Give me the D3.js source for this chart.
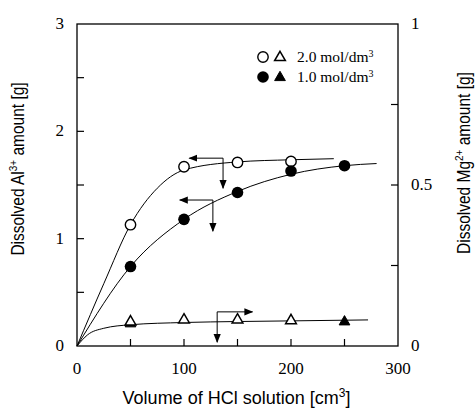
<!DOCTYPE html>
<html>
<head>
<meta charset="utf-8">
<script src="https://cdn.jsdelivr.net/npm/d3@7"></script>
<style>
  body { margin: 0; background: #fff; }
  svg { display: block; }
  .tick-label { font-family: "Liberation Serif", "Times New Roman", serif; font-size: 17px; }
  .axis-title { font-family: "Liberation Sans", Arial, sans-serif; font-size: 15.5px; }
  .legend-text { font-family: "Liberation Serif", "Times New Roman", serif; font-size: 15.5px; }
</style>
</head>
<body>
<div id="chart"></div>
<script>
'use strict';

// measured points (volume in cm3, dissolved amount in g)
var volumes = [50, 100, 150, 200, 250];
var al20 = [1.13, 1.67, 1.71, 1.72];          // open circles, left axis
var al10 = [0.74, 1.18, 1.43, 1.63, 1.68];    // filled circles, left axis
var mg20 = [0.072, 0.078, 0.078, 0.076];      // open triangles, right axis
var mg10 = [0.066, 0.072];                    // filled triangles, right axis
var mg10Vol = [50, 250];

// hand-drawn fit lines
var fitAl20 = [[0, 0], [25, 0.58], [50, 1.13], [75, 1.47], [100, 1.64], [150, 1.715], [200, 1.735], [240, 1.745]];
var fitAl10 = [[0, 0], [50, 0.74], [100, 1.18], [150, 1.44], [200, 1.60], [250, 1.68], [280, 1.70]];
var fitMg = [[0, 0], [10, 0.035], [25, 0.055], [50, 0.066], [100, 0.073], [150, 0.076], [200, 0.078], [272, 0.081]];

var xTicks = [0, 100, 200, 300];
var yLeftTicks = [0, 1, 2, 3];
var yRightTicks = [0, 0.5, 1];

var width = 476, height = 408;
var margin = { left: 77, right: 78, top: 24, bottom: 62 };
var plotW = width - margin.left - margin.right;
var plotH = height - margin.top - margin.bottom;

var svg = d3.select("#chart").append("svg")
    .attr("width", width)
    .attr("height", height);

var g = svg.append("g")
    .attr("transform", "translate(" + margin.left + "," + margin.top + ")");

var x = d3.scaleLinear().domain([0, 300]).range([0, plotW]);
var yL = d3.scaleLinear().domain([0, 3]).range([plotH, 0]);
var yR = d3.scaleLinear().domain([0, 1]).range([plotH, 0]);

// frame: left, bottom, right and top lines
g.append("rect")
    .attr("x", 0).attr("y", 0)
    .attr("width", plotW).attr("height", plotH)
    .attr("fill", "none")
    .attr("stroke", "#000")
    .attr("stroke-width", 1.3);

var tickLen = 7;

// bottom ticks, pointing up (every 50)
g.selectAll(".xtick").data(d3.range(50, 300, 50)).enter().append("line")
    .attr("x1", function (d) { return x(d); })
    .attr("x2", function (d) { return x(d); })
    .attr("y1", plotH).attr("y2", plotH - tickLen)
    .attr("stroke", "#000").attr("stroke-width", 1.2);

// left ticks, pointing right (every 0.5)
g.selectAll(".yltick").data(d3.range(0.5, 3, 0.5)).enter().append("line")
    .attr("x1", 0).attr("x2", tickLen)
    .attr("y1", function (d) { return yL(d); })
    .attr("y2", function (d) { return yL(d); })
    .attr("stroke", "#000").attr("stroke-width", 1.2);

// right ticks, pointing left (every 0.25)
g.selectAll(".yrtick").data([0.25, 0.5, 0.75]).enter().append("line")
    .attr("x1", plotW).attr("x2", plotW - tickLen)
    .attr("y1", function (d) { return yR(d); })
    .attr("y2", function (d) { return yR(d); })
    .attr("stroke", "#000").attr("stroke-width", 1.2);

// tick labels
g.selectAll(".xlab").data(xTicks).enter().append("text")
    .attr("class", "tick-label")
    .attr("x", function (d) { return x(d); })
    .attr("y", plotH + 28)
    .attr("text-anchor", "middle")
    .text(function (d) { return d; });

g.selectAll(".yllab").data(yLeftTicks).enter().append("text")
    .attr("class", "tick-label")
    .attr("x", -13)
    .attr("y", function (d) { return yL(d) + 5; })
    .attr("text-anchor", "end")
    .text(function (d) { return d; });

g.selectAll(".yrlab").data(yRightTicks).enter().append("text")
    .attr("class", "tick-label")
    .attr("x", plotW + 13)
    .attr("y", function (d) { return yR(d) + 5; })
    .attr("text-anchor", "start")
    .text(function (d) { return d; });

// axis titles
var xt = svg.append("text")
    .attr("class", "axis-title")
    .style("font-size", "18px")
    .attr("x", margin.left + plotW / 2 - 1)
    .attr("y", 404)
    .attr("text-anchor", "middle");
xt.append("tspan").text("Volume of HCl solution [cm");
xt.append("tspan").attr("dy", -7).style("font-size", "12px").text("3");
xt.append("tspan").attr("dy", 7).text("]");

var ylt = svg.append("text")
    .attr("class", "axis-title")
    .attr("transform", "translate(24," + (margin.top + plotH / 2 - 16) + ") scale(1.15,1) rotate(-90)")
    .attr("text-anchor", "middle");
ylt.append("tspan").text("Dissolved Al");
ylt.append("tspan").attr("dy", -6).style("font-size", "10px").text("3+");
ylt.append("tspan").attr("dy", 6).text(" amount [g]");

var yrt = svg.append("text")
    .attr("class", "axis-title")
    .attr("transform", "translate(470," + (margin.top + plotH / 2 - 22) + ") scale(1.15,1) rotate(-90)")
    .attr("text-anchor", "middle");
yrt.append("tspan").text("Dissolved Mg");
yrt.append("tspan").attr("dy", -6).style("font-size", "10px").text("2+");
yrt.append("tspan").attr("dy", 6).text(" amount [g]");

// fit lines
var lineL = d3.line()
    .x(function (d) { return x(d[0]); })
    .y(function (d) { return yL(d[1]); })
    .curve(d3.curveMonotoneX);
var lineR = d3.line()
    .x(function (d) { return x(d[0]); })
    .y(function (d) { return yR(d[1]); })
    .curve(d3.curveMonotoneX);

[fitAl20, fitAl10].forEach(function (f) {
    g.append("path").attr("d", lineL(f))
        .attr("fill", "none").attr("stroke", "#000").attr("stroke-width", 1);
});
g.append("path").attr("d", lineR(fitMg))
    .attr("fill", "none").attr("stroke", "#000").attr("stroke-width", 1);

// markers
var r = 5.2;
var tri = d3.symbol().type(d3.symbolTriangle).size(50);

g.selectAll(".mg10").data(mg10).enter().append("path")
    .attr("d", tri)
    .attr("transform", function (d, i) { return "translate(" + x(mg10Vol[i]) + "," + (yR(d) - 1) + ")"; })
    .attr("fill", "#000").attr("stroke", "#000").attr("stroke-width", 1);

g.selectAll(".mg20").data(mg20).enter().append("path")
    .attr("d", tri)
    .attr("transform", function (d, i) { return "translate(" + x(volumes[i]) + "," + (yR(d) - 1) + ")"; })
    .attr("fill", "#fff").attr("stroke", "#000").attr("stroke-width", 1.5);

g.selectAll(".al20").data(al20).enter().append("circle")
    .attr("cx", function (d, i) { return x(volumes[i]); })
    .attr("cy", function (d) { return yL(d); })
    .attr("r", r)
    .attr("fill", "#fff").attr("stroke", "#000").attr("stroke-width", 1.4);

g.selectAll(".al10").data(al10).enter().append("circle")
    .attr("cx", function (d, i) { return x(volumes[i]); })
    .attr("cy", function (d) { return yL(d); })
    .attr("r", r + 0.6)
    .attr("fill", "#000");

// arrows pointing to the axis each curve belongs to
var defs = svg.append("defs");
defs.append("marker")
    .attr("id", "head")
    .attr("viewBox", "0 0 10 10")
    .attr("refX", 9).attr("refY", 5)
    .attr("markerWidth", 9).attr("markerHeight", 9)
    .attr("markerUnits", "userSpaceOnUse")
    .attr("orient", "auto")
    .append("path")
    .attr("d", "M0,1 L10,5 L0,9 Z")
    .attr("fill", "#000");

function arrow(x1, y1, x2, y2) {
    g.append("line")
        .attr("x1", x1).attr("y1", y1).attr("x2", x2).attr("y2", y2)
        .attr("stroke", "#000").attr("stroke-width", 1)
        .attr("marker-end", "url(#head)");
}

// 2.0 mol curve -> left axis
arrow(x(136.5), yL(1.75), x(105), yL(1.75));
arrow(x(136.5), yL(1.75), x(136.5), yL(1.47));
// 1.0 mol curve -> left axis
arrow(x(127), yL(1.36), x(96), yL(1.36));
arrow(x(127), yL(1.36), x(127), yL(1.07));
// Mg curve -> right axis
arrow(x(131), yR(0.106), x(164), yR(0.106));
arrow(x(131), yR(0.106), x(131), yR(0.012));

// legend
var lg = svg.append("g");
var legendRows = [
    { label: "2.0 mol/dm", fill: "#fff", y: 57 },
    { label: "1.0 mol/dm", fill: "#000", y: 77 }
];
legendRows.forEach(function (row) {
    lg.append("circle")
        .attr("cx", 263).attr("cy", row.y)
        .attr("r", row.fill === "#000" ? r + 0.6 : r)
        .attr("fill", row.fill)
        .attr("stroke", row.fill === "#000" ? "none" : "#000")
        .attr("stroke-width", 1.4);
    lg.append("path")
        .attr("d", tri)
        .attr("transform", "translate(280," + (row.y + 0.5) + ")")
        .attr("fill", row.fill).attr("stroke", "#000")
        .attr("stroke-width", row.fill === "#000" ? 1 : 1.5);
    var t = lg.append("text")
        .attr("class", "legend-text")
        .attr("x", 297).attr("y", row.y + 5);
    t.append("tspan").text(row.label);
    t.append("tspan").attr("dy", -5).style("font-size", "10px").text("3");
});
</script>
</body>
</html>
